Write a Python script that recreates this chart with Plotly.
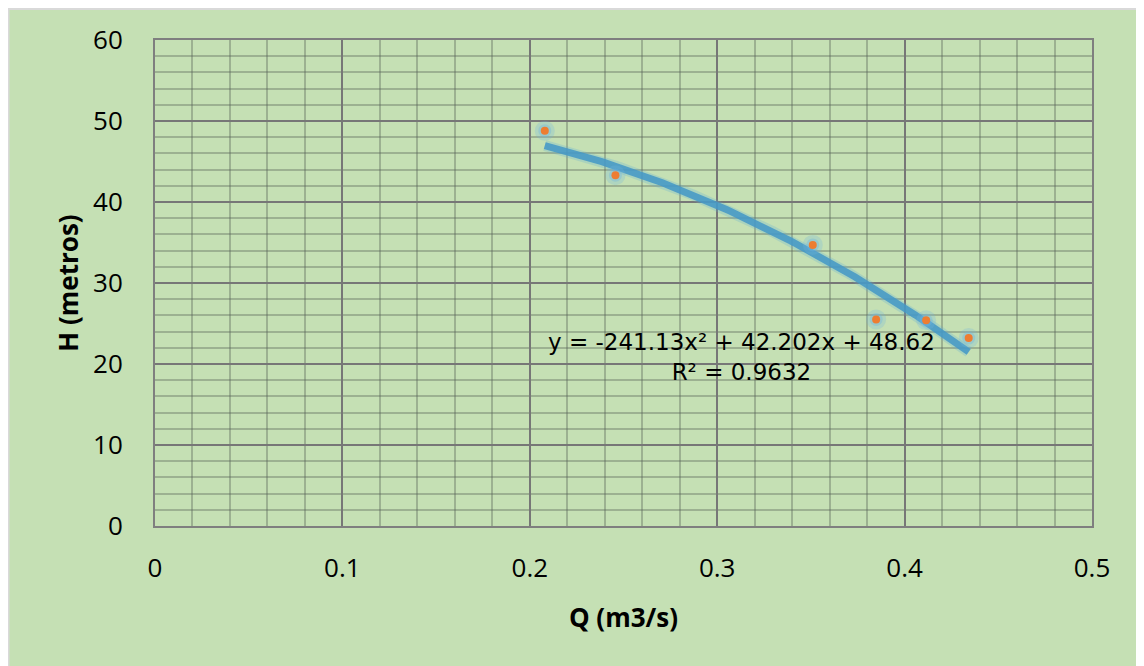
import numpy as np
import plotly.graph_objects as go

# Data
Q = [0.208, 0.2457, 0.351, 0.3848, 0.4115, 0.4342]
H = [48.8, 43.3, 34.7, 25.5, 25.4, 23.2]
# Polynomial trendline coefficients (as displayed): a*x^2 + b*x + c
trend_coef = [-241.13, 42.202, 48.62]
eq_text = "y = -241.13x² + 42.202x + 48.62<br>R² = 0.9632"
x_ticks = [0, 0.1, 0.2, 0.3, 0.4, 0.5]
x_tick_labels = ["0", "0.1", "0.2", "0.3", "0.4", "0.5"]
y_ticks = [0, 10, 20, 30, 40, 50, 60]

GREEN = "#C5E0B4"
FONT = "Open Sans"

tx = np.linspace(min(Q), max(Q), 120)
ty = np.polyval(trend_coef, tx)

fig = go.Figure()
# trendline glow
fig.add_trace(go.Scatter(x=tx, y=ty, mode="lines",
                         line=dict(color="rgba(91,170,215,0.25)", width=11),
                         hoverinfo="skip", showlegend=False))
fig.add_trace(go.Scatter(x=tx, y=ty, mode="lines",
                         line=dict(color="rgba(70,152,198,0.88)", width=7),
                         showlegend=False))
# marker glow (two soft layers)
fig.add_trace(go.Scatter(x=Q, y=H, mode="markers",
                         marker=dict(size=20, color="rgba(110,180,225,0.25)",
                                     line=dict(width=0)),
                         hoverinfo="skip", showlegend=False))
fig.add_trace(go.Scatter(x=Q, y=H, mode="markers",
                         marker=dict(size=13, color="rgba(110,180,225,0.35)",
                                     line=dict(width=0)),
                         hoverinfo="skip", showlegend=False))
fig.add_trace(go.Scatter(x=Q, y=H, mode="markers",
                         marker=dict(size=8, color="#ED7D31", line=dict(width=0)),
                         showlegend=False))

fig.add_annotation(x=0.3132, y=20.9, xref="x", yref="y", text=eq_text,
                   showarrow=False, align="center", xanchor="center", yanchor="middle",
                   font=dict(family="DejaVu Sans", size=23, color="#000000"))

# page has an 8px body margin, so figure coords = page coords - 8
W, Hh = 1136, 658
ml, mr, mt, mb = 147, 52, 32, 140
pw, ph = W - ml - mr, Hh - mt - mb
# gray top/left border of the chart panel
fig.add_shape(type="line", xref="paper", yref="paper",
              x0=-ml / pw + 0.5 / pw, x1=-ml / pw + 0.5 / pw, y0=-mb / ph, y1=1 + mt / ph,
              line=dict(color="#D9D9D9", width=2), layer="below")
fig.add_shape(type="line", xref="paper", yref="paper",
              x0=-ml / pw, x1=1 + mr / pw, y0=1 + (mt - 1) / ph, y1=1 + (mt - 1) / ph,
              line=dict(color="#D9D9D9", width=2), layer="below")

axis_common = dict(
    showline=True, linecolor="#7F7F7F", linewidth=2, mirror=True,
    showgrid=True, gridcolor="#777777", gridwidth=2,
    zeroline=False, ticks="", tickfont=dict(family=FONT, size=26, color="#000000"),
)
fig.update_xaxes(range=[0, 0.5], tickvals=x_ticks, ticktext=x_tick_labels,
                 minor=dict(dtick=0.02, showgrid=True, gridcolor="rgba(90,100,90,0.38)", gridwidth=2),
                 title=dict(text="<b>Q (m3/s)</b>", font=dict(family=FONT, size=26, color="#000000"),
                            standoff=25),
                 ticklabelstandoff=18, **axis_common)
fig.update_yaxes(range=[0, 60], tickvals=y_ticks,
                 minor=dict(dtick=2, showgrid=True, gridcolor="rgba(90,100,90,0.38)", gridwidth=2),
                 title=dict(text="<b>H (metros)</b>", font=dict(family=FONT, size=26, color="#000000"),
                            standoff=7),
                 ticklabelstandoff=25, **axis_common)

fig.update_layout(width=W, height=Hh, margin=dict(l=ml, r=mr, t=mt, b=mb),
                  paper_bgcolor=GREEN, plot_bgcolor="rgba(0,0,0,0)",
                  font=dict(family=FONT), showlegend=False)

fig.write_html("out.html")
